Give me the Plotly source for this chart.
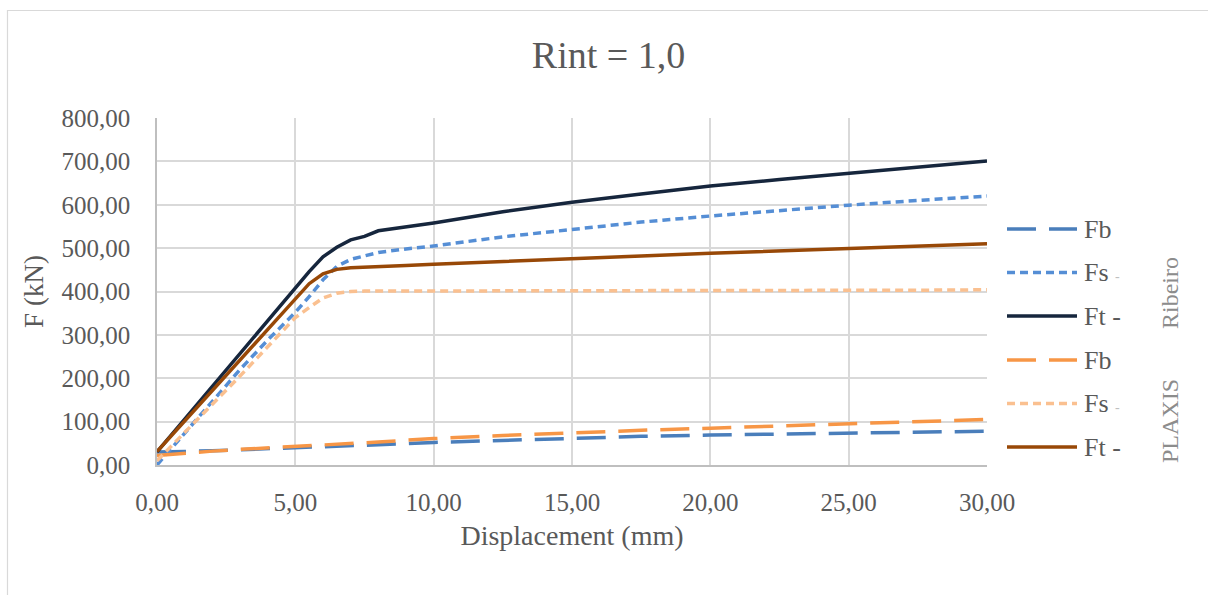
import plotly.graph_objects as go

# Displacement (mm) shared by every curve
displacement = [0, 0.5, 1, 2, 3, 4, 5, 5.5, 6, 6.5, 7, 7.5, 8, 9, 10,
                12.5, 15, 17.5, 20, 22.5, 25, 27.5, 30]

# Ribeiro
fb_ribeiro = [30, 30, 31, 33, 35, 38, 40, 41, 42, 43, 44, 45, 46, 49, 52,
              57, 62, 66, 69, 71, 73, 76, 78]
fs_ribeiro = [0, 37, 74, 148, 220, 288, 352, 388, 427, 458, 474, 482, 490, 498, 505,
              526, 544, 560, 574, 587, 599, 610, 620]
ft_ribeiro = [30, 68, 106, 182, 258, 334, 408, 446, 480, 502, 519, 527, 540, 549, 558,
              584, 606, 625, 643, 658, 673, 687, 701]

# PLAXIS
fb_plaxis = [22, 25, 28, 32, 36, 39, 42, 44, 46, 48, 50, 51, 53, 57, 61,
             68, 75, 80, 85, 90, 95, 100, 105]
fs_plaxis = [10, 42, 75, 140, 205, 272, 340, 363, 385, 396, 400, 401, 401, 401, 402,
             402, 402, 402, 402, 403, 403, 403, 404]
ft_plaxis = [31, 66, 101, 172, 243, 314, 384, 418, 441, 451, 455, 456, 457, 460, 463,
             470, 476, 482, 488, 494, 500, 505, 510]

legend_labels = ["Fb", "Fs", "Ft -", "Fb", "Fs", "Ft -"]
y_ticks = [0, 100, 200, 300, 400, 500, 600, 700, 800]
x_ticks = [0, 5, 10, 15, 20, 25, 30]

FONT = "Liberation Serif"
TEXT = "#595959"
LONG_DASH = "29px,13px"
SHORT_DASH = "8px,5px"

series = [
    (fb_ribeiro, legend_labels[0], "#4A7EBB", LONG_DASH),
    (fs_ribeiro, legend_labels[1], "#558ED5", SHORT_DASH),
    (ft_ribeiro, legend_labels[2], "#16263D", "solid"),
    (fb_plaxis, legend_labels[3], "#F79646", LONG_DASH),
    (fs_plaxis, legend_labels[4], "#FAC090", SHORT_DASH),
    (ft_plaxis, legend_labels[5], "#984807", "solid"),
]

fig = go.Figure()
for values, name, color, dash in series:
    fig.add_trace(go.Scatter(
        x=displacement, y=values, mode="lines", name=name,
        line=dict(color=color, width=3.5, dash=dash),
        showlegend=False,
    ))

# plot area in pixels
W, H = 1208, 595
L, R, T, B = 157, 987, 118, 465
pw, ph = R - L, B - T


def px(xp):
    return (xp - L) / pw


def py(yp):
    return (B - yp) / ph


shapes = []
annotations = []

# outer chart frame
shapes.append(dict(type="rect", xref="paper", yref="paper",
                   x0=px(7.5), x1=px(1212), y0=py(600), y1=py(10.5),
                   line=dict(color="#D9D9D9", width=1.2), fillcolor="rgba(0,0,0,0)",
                   layer="below"))

# legend drawn at the right of the plot
row_y = [229, 272.5, 316, 360, 403.5, 447]
for (values, name, color, dash), yy in zip(series, row_y):
    shapes.append(dict(type="line", xref="paper", yref="paper",
                       x0=px(1007), x1=px(1077), y0=py(yy), y1=py(yy),
                       line=dict(color=color, width=3.5, dash=dash)))
    label = name
    if name == "Fs":
        label = "Fs <span style='color:#BFBFBF;font-size:14px'>-</span>"
    annotations.append(dict(xref="paper", yref="paper", x=px(1082), y=py(yy),
                            text=label, showarrow=False, xanchor="left", yanchor="middle",
                            font=dict(family=FONT, size=26, color=TEXT)))

# group labels
for text, yy in [("Ribeiro", 293), ("PLAXIS", 421)]:
    annotations.append(dict(xref="paper", yref="paper", x=px(1170), y=py(yy),
                            text=text, showarrow=False, textangle=-90,
                            xanchor="center", yanchor="middle",
                            font=dict(family=FONT, size=24, color="#8C8C8C")))

fig.update_layout(
    width=W, height=H,
    margin=dict(l=L, r=W - R, t=T, b=H - B, autoexpand=False),
    paper_bgcolor="white", plot_bgcolor="white",
    separators=",.",
    font=dict(family=FONT, size=25, color=TEXT),
    title=dict(text="Rint = 1,0", x=(532 + 685) / 2 / W, xanchor="center",
               y=1 - 55 / H, yanchor="middle", yref="container",
               font=dict(family=FONT, size=38, color=TEXT)),
    shapes=shapes,
    annotations=annotations,
    showlegend=False,
)

fig.update_xaxes(
    range=[0, 30], tickvals=x_ticks, tickformat=".2f",
    showgrid=True, gridcolor="#D9D9D9", gridwidth=1.5,
    showline=True, linecolor="#BFBFBF", linewidth=1.5,
    ticks="outside", ticklen=14, tickcolor="rgba(0,0,0,0)",
    zeroline=False,
    tickfont=dict(family=FONT, size=25, color=TEXT),
    title=dict(text="Displacement (mm)", standoff=11,
               font=dict(family=FONT, size=28, color=TEXT)),
)
fig.update_yaxes(
    range=[0, 800], tickvals=y_ticks, tickformat=".2f",
    showgrid=True, gridcolor="#D9D9D9", gridwidth=1.5,
    showline=True, linecolor="#BFBFBF", linewidth=1.5,
    ticks="outside", ticklen=20, tickcolor="rgba(0,0,0,0)",
    zeroline=False,
    tickfont=dict(family=FONT, size=25, color=TEXT),
    title=dict(text="F (kN)", standoff=10,
               font=dict(family=FONT, size=27, color=TEXT)),
)

fig.write_html("out.html")
